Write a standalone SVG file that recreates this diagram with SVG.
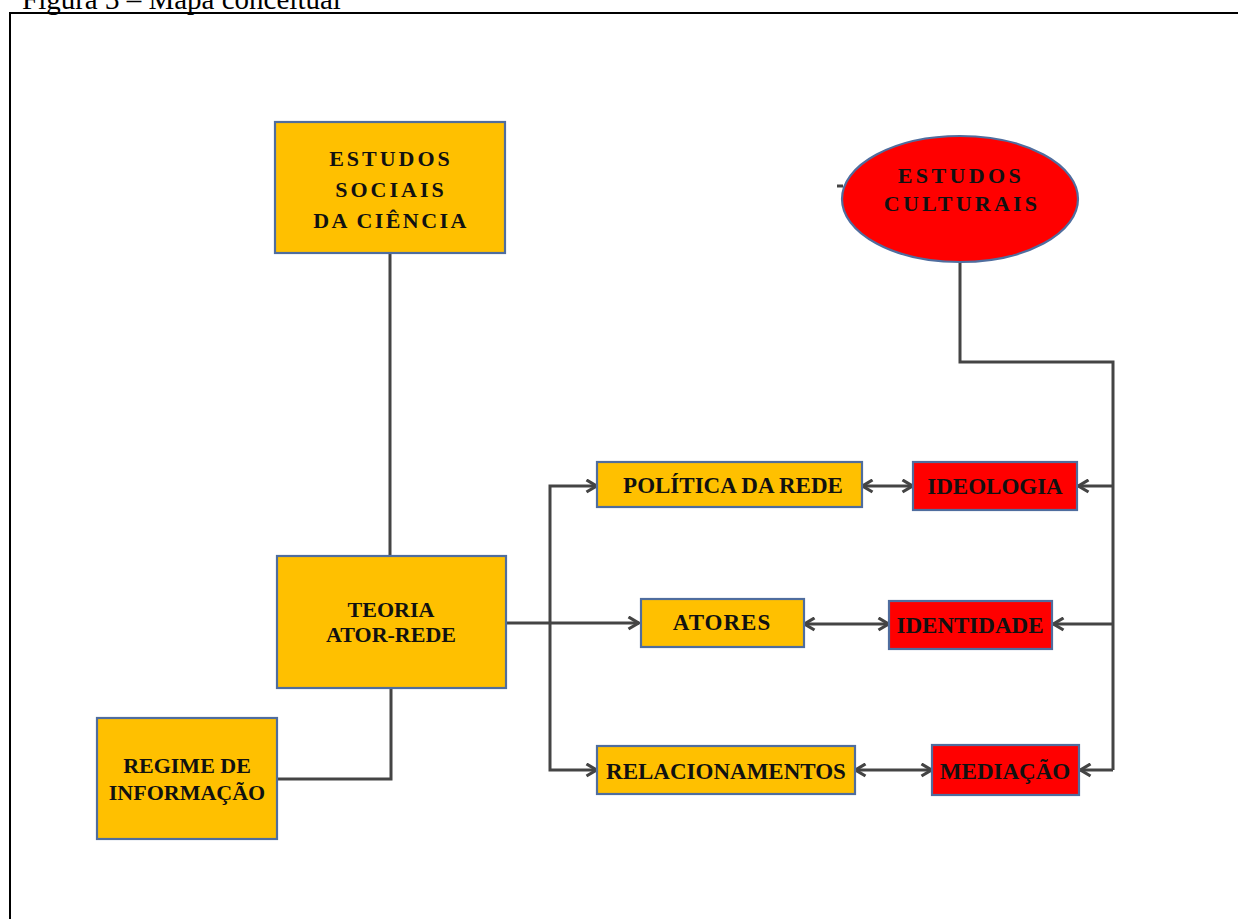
<svg xmlns="http://www.w3.org/2000/svg" width="1238" height="919" viewBox="0 0 1238 919">
<defs>
<style>
.box{stroke:#4F6D9E;stroke-width:2.2}
.y{fill:#FFC000}
.r{fill:#FF0000}
.t{font-family:"Liberation Serif","Times New Roman",serif;font-weight:bold;font-size:22px;fill:#111;text-anchor:middle}
.s{font-size:23px}
.ln{fill:none;stroke:#444;stroke-width:3}
.cap{font-family:"Liberation Serif","Times New Roman",serif;font-size:29px;fill:#000}
</style>
<marker id="ah" viewBox="0 0 13 15" refX="12" refY="7.5" markerWidth="13" markerHeight="15" markerUnits="userSpaceOnUse" orient="auto-start-reverse">
<path d="M1.5,1.5 L11.5,7.5 L1.5,13.5" fill="none" stroke="#444" stroke-width="3.2"/>
</marker>
</defs>
<rect width="1238" height="919" fill="#fff"/>
<text class="cap" x="22" y="9">Figura 3 – Mapa conceitual</text>
<path d="M9,13 H1238 M10,13 V919" fill="none" stroke="#000" stroke-width="2"/>

<g id="connectors">
<path class="ln" d="M390,253 V556"/>
<path class="ln" d="M391,688 V779 H277"/>
<path class="ln" d="M506,623 H639" marker-end="url(#ah)"/>
<path class="ln" d="M597,486 H550 V770 H597" marker-start="url(#ah)" marker-end="url(#ah)"/>
<path class="ln" d="M862,486 H913" marker-start="url(#ah)" marker-end="url(#ah)"/>
<path class="ln" d="M804,624 H889" marker-start="url(#ah)" marker-end="url(#ah)"/>
<path class="ln" d="M855,770 H932" marker-start="url(#ah)" marker-end="url(#ah)"/>
<path class="ln" d="M960,262 V362 H1113 V770"/>
<path class="ln" d="M1113,486 H1078" marker-end="url(#ah)"/>
<path class="ln" d="M1113,624 H1053" marker-end="url(#ah)"/>
<path class="ln" d="M1113,770 H1080" marker-end="url(#ah)"/>
<path d="M837,186 H843" stroke="#444" stroke-width="3"/>
</g>

<g id="estudos-sociais">
<rect class="box y" x="275" y="122" width="230" height="131"/>
<text class="t" x="391" y="166" letter-spacing="3">ESTUDOS</text>
<text class="t" x="391" y="197" letter-spacing="3">SOCIAIS</text>
<text class="t" x="391" y="228" letter-spacing="2.4">DA CIÊNCIA</text>
</g>

<g id="estudos-culturais">
<ellipse class="box r" cx="960" cy="199" rx="118" ry="63"/>
<text class="t" x="961" y="183" letter-spacing="3.4">ESTUDOS</text>
<text class="t" x="962" y="211" letter-spacing="3.2">CULTURAIS</text>
</g>

<g id="teoria">
<rect class="box y" x="277" y="556" width="229" height="132"/>
<text class="t" x="391" y="617">TEORIA</text>
<text class="t" x="391" y="642">ATOR-REDE</text>
</g>

<g id="regime">
<rect class="box y" x="97" y="718" width="180" height="121"/>
<text class="t" x="187" y="773">REGIME DE</text>
<text class="t" x="187" y="800">INFORMAÇÃO</text>
</g>

<g id="politica">
<rect class="box y" x="597" y="462" width="265" height="45"/>
<text class="t s" x="733" y="493">POLÍTICA DA REDE</text>
</g>

<g id="ideologia">
<rect class="box r" x="913" y="462" width="164" height="48"/>
<text class="t s" x="995" y="494">IDEOLOGIA</text>
</g>

<g id="atores">
<rect class="box y" x="641" y="599" width="163" height="48"/>
<text class="t s" x="722" y="630" letter-spacing="1">ATORES</text>
</g>

<g id="identidade">
<rect class="box r" x="889" y="601" width="163" height="48"/>
<text class="t s" x="970" y="633">IDENTIDADE</text>
</g>

<g id="relacionamentos">
<rect class="box y" x="597" y="746" width="258" height="48"/>
<text class="t s" x="726" y="779">RELACIONAMENTOS</text>
</g>

<g id="mediacao">
<rect class="box r" x="932" y="745" width="147" height="50"/>
<text class="t s" x="1005" y="779">MEDIAÇÃO</text>
</g>
</svg>
